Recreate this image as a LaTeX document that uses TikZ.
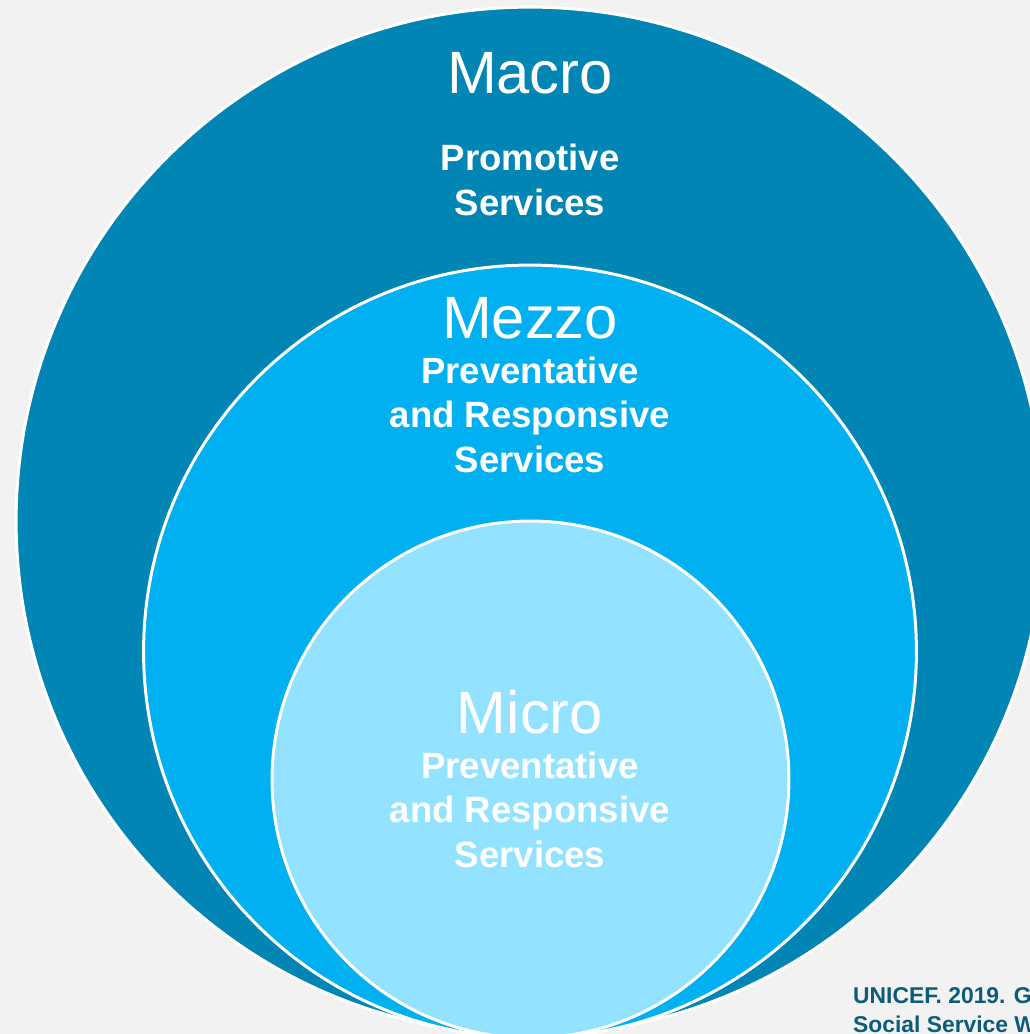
\documentclass[tikz,border=0pt]{standalone}
\usepackage{fontspec}
\setmainfont{Liberation Sans}
\usetikzlibrary{positioning}

\definecolor{bgGray}{HTML}{F2F2F2}
\definecolor{macroBlue}{HTML}{0085B4}
\definecolor{mezzoBlue}{HTML}{00B0F0}
\definecolor{microBlue}{HTML}{93E2FF}
\definecolor{citeTeal}{HTML}{0B5C79}

\tikzset{
  ring/.style={circle, draw=white, line width=1.7pt, inner sep=0pt},
  level/.style={text=white, font=\fontsize{34}{40}\selectfont, anchor=base},
  services/.style={text=white, align=center, anchor=base,
    font=\fontsize{20.8}{25.2}\selectfont\bfseries},
  cite/.style={text=citeTeal, align=left, anchor=base west,
    font=\fontsize{13}{16.5}\selectfont\bfseries}
}

\begin{document}
\begin{tikzpicture}[x=0.02cm, y=-0.02cm]

        \fill[bgGray] (0,0) rectangle (1030,1034);
        \clip (0,0) rectangle (1030,1034);

        \node[ring, fill=macroBlue, minimum size=20.56cm] at (530,521) (macro) {};
        \node[ring, fill=mezzoBlue, minimum size=15.46cm] at (530,651.5) (mezzo) {};
        \node[ring, fill=microBlue, minimum size=10.34cm] at (530.5,779.5) (micro) {};

        % the base of a block is the baseline of its last line
        \node[level] at (530,93) (macroT) {Macro};
        \node[services] at (530,215) (macroS) {Promotive\\Services};

        \node[level] at (530,338) (mezzoT) {Mezzo};
        \node[services] at (530,472) (mezzoS) {Preventative\\and Responsive\\Services};

        \node[level] at (530,733) (microT) {Micro};
        \node[services] at (530,867) (microS) {Preventative\\and Responsive\\Services};

        \node[cite] at (847,1032) (source) {UNICEF. 2019. G\\Social Service W};
    \end{tikzpicture}
\end{document}
